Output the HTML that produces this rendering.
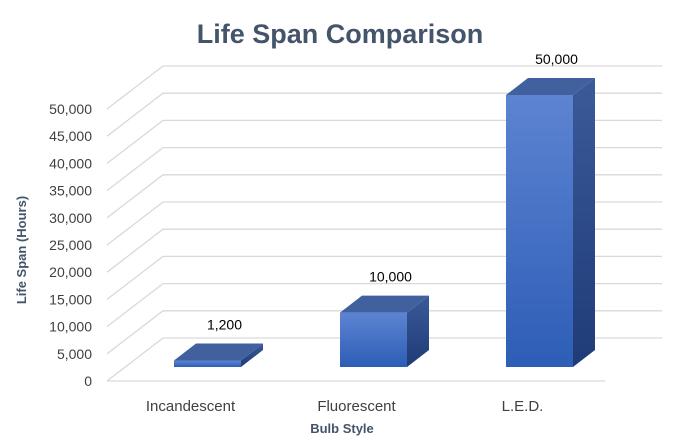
<!DOCTYPE html>
<html><head><meta charset="utf-8"><style>
body{margin:0;background:#fff;}
svg{display:block;font-family:"Liberation Sans",sans-serif;}
</style></head><body>
<svg id="chart" width="677" height="441" viewBox="0 0 677 441">
<defs>
<linearGradient id="fg" x1="0" y1="0" x2="0" y2="1"><stop offset="0" stop-color="#5d84d2"/><stop offset="1" stop-color="#2d5db6"/></linearGradient>
<linearGradient id="sg" x1="0" y1="0" x2="0" y2="1"><stop offset="0" stop-color="#3b5a98"/><stop offset="1" stop-color="#1f3b78"/></linearGradient>
</defs>
<text x="340" y="43" text-anchor="middle" font-size="27" font-weight="bold" fill="#44546a">Life Span Comparison</text>
<g id="grid"></g>
<g id="bars"></g>
<text transform="translate(26,250) rotate(-90)" text-anchor="middle" font-size="13" font-weight="bold" fill="#44546a">Life Span (Hours)</text>
<text x="342" y="433" text-anchor="middle" font-size="13" font-weight="bold" fill="#44546a">Bulb Style</text>
</svg>
<script>
const categories=["Incandescent","Fluorescent","L.E.D."];
const values=[1200,10000,50000];
const valueLabels=["1,200","10,000","50,000"];
const ticks=[0,5000,10000,15000,20000,25000,30000,35000,40000,45000,50000];
const NS="http://www.w3.org/2000/svg";
const grid=document.getElementById('grid'),bars=document.getElementById('bars');
const per=27.2/5000;
function yBack(v){return 338-v*per;}
function yFront(v){return 381-v*per;}
function yBar(v){return 367-v*per;}
function xCat(i){return 174+i*166;}
function mk(tag,attrs,parent){const e=document.createElementNS(NS,tag);for(const k in attrs)e.setAttribute(k,attrs[k]);parent.appendChild(e);return e;}
ticks.forEach((t,i)=>{
  const g=mk('g',{},grid);
  
  
  mk('line',{x1:163,y1:yBack(t),x2:662,y2:yBack(t),stroke:'#d9d9d9','stroke-width':1.3},g);
  mk('line',{x1:107,y1:yFront(t),x2:163,y2:yBack(t),stroke:'#d9d9d9','stroke-width':1.3},g);
  const tx=mk('text',{x:92,y:yFront(t)+5,'text-anchor':'end','font-size':14,fill:'#404040'},grid);
  tx.textContent=t.toLocaleString('en-US');
  
  
});
const floor=mk('line',{x1:107,y1:381,x2:605,y2:381,stroke:'#d9d9d9','stroke-width':1.3},grid);


const W=67,DX=22,DY=17;
categories.forEach((c,i)=>{
  const x=xCat(i),yt=yBar(values[i]),yb=yBar(0);
  const g=mk('g',{},bars);
  
  
  mk('polygon',{points:`${x+W},${yt} ${x+W+DX},${yt-DY} ${x+W+DX},${yb-DY} ${x+W},${yb}`,fill:'url(#sg)'},g);
  mk('polygon',{points:`${x},${yt} ${x+DX},${yt-DY} ${x+W+DX},${yt-DY} ${x+W},${yt}`,fill:'#41609e'},g);
  mk('rect',{x:x,y:yt,width:W,height:yb-yt,fill:'url(#fg)'},g);
  const lb=mk('text',{x:x+W/2+17,y:yt-DY-14,'text-anchor':'middle','font-size':14,fill:'#000'},bars);
  lb.textContent=valueLabels[i];
  
  
  const cl=mk('text',{x:x+W/2-17,y:411,'text-anchor':'middle','font-size':15,fill:'#404040'},bars);
  cl.textContent=c;
  
  
});
</script>
</body></html>
